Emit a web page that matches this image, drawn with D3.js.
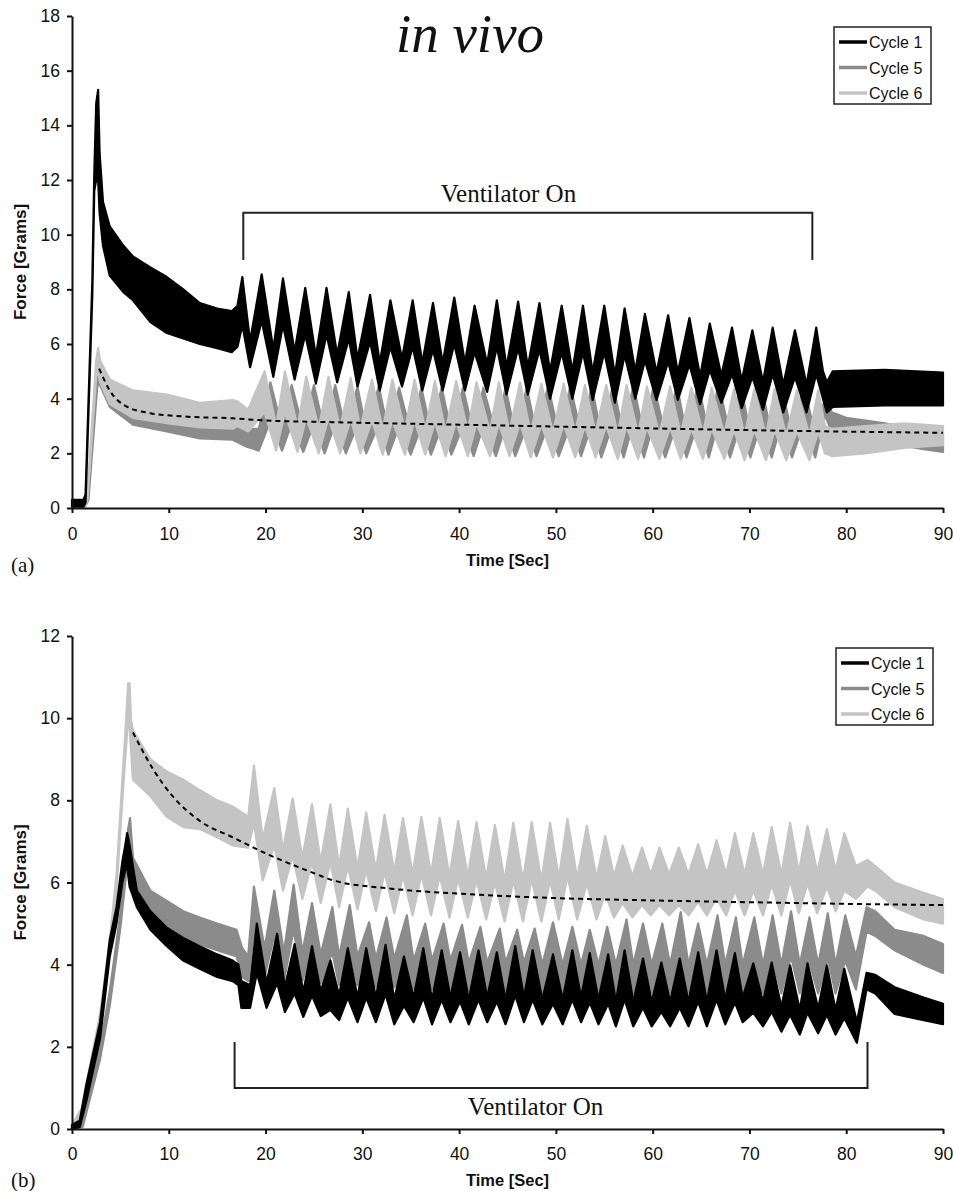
<!DOCTYPE html>
<html>
<head>
<meta charset="utf-8">
<script src="https://cdn.jsdelivr.net/npm/d3@7"></script>
<style>
  body { margin: 0; background: #fff; }
</style>
</head>
<body>
<div id="chart"></div>
<script>
// ---- data: rows are [time s, lower edge g, upper edge g] of each trace ----
const seriesNames = ["Cycle 1", "Cycle 5", "Cycle 6"];
const timeTicks = [0, 10, 20, 30, 40, 50, 60, 70, 80, 90];
const forceTicksA = [0, 2, 4, 6, 8, 10, 12, 14, 16, 18];
const forceTicksB = [0, 2, 4, 6, 8, 10, 12];
const ventA = [17.7, 76.5];
const ventB = [16.8, 82.2];

const aCycle1 = [
  [0,0.05,0.3],[1.2,0.05,0.3],[1.4,0.2,0.5],[2.1,7.8,8.3],[2.3,11.6,12.2],[2.5,12.0,14.8],[2.7,12.0,15.3],
  [2.85,10.8,13.0],[3.2,9.6,11.2],[3.9,8.5,10.3],[5.3,7.9,9.6],[6.3,7.6,9.2],[8.1,6.8,8.8],[9.8,6.4,8.45],
  [11.5,6.2,8.0],[13.2,6.0,7.5],[15,5.85,7.3],[16.5,5.7,7.2],[17.1,5.9,7.4],
  [17.6,6.7,8.45],[18.4,5.15,6.1],[19.6,6.85,8.55],[20.8,4.8,5.8],[21.8,6.7,8.4],[23.0,4.7,5.7],
  [24.1,6.35,8.05],[25.2,4.55,5.55],[26.3,6.35,8.05],[27.4,4.6,5.6],[28.6,6.2,7.9],[29.5,4.45,5.45],
  [30.8,6.1,7.8],[31.8,4.3,5.3],[32.9,5.9,7.6],[34.1,4.45,5.45],[35.2,5.9,7.6],[36.2,4.3,5.3],
  [37.3,5.8,7.5],[38.3,4.3,5.3],[39.5,6.0,7.7],[40.6,4.3,5.3],[41.6,5.7,7.4],[42.9,4.25,5.25],
  [43.9,5.9,7.6],[44.9,4.15,5.15],[46.1,5.85,7.55],[47.1,4.15,5.15],[48.3,5.8,7.5],[49.4,4.0,5.0],
  [50.6,5.7,7.4],[51.7,4.0,5.0],[52.8,5.7,7.4],[53.8,3.95,4.95],[55.0,5.7,7.4],[56.1,3.85,4.85],
  [57.1,5.6,7.3],[58.2,4.0,5.0],[59.2,5.4,7.1],[60.4,3.95,4.95],[61.6,5.35,7.05],[62.6,3.95,4.95],
  [63.8,5.25,6.95],[64.9,3.8,4.8],[65.9,5.05,6.75],[67.1,3.85,4.85],[68.2,4.9,6.6],[69.2,3.65,4.65],
  [70.3,4.8,6.5],[71.4,3.6,4.6],[72.4,4.9,6.6],[73.5,3.5,4.5],[74.7,4.8,6.5],[75.9,3.5,4.5],
  [76.9,4.9,6.6],[77.6,4.0,5.0],[78.0,3.5,4.6],[78.6,3.7,5.0],[84,3.75,5.05],[90,3.75,4.95]
];

const aCycle5 = [
  [0,0,0.12],[1.3,0,0.15],[1.7,0.3,0.6],[2.6,4.4,5.1],[2.75,4.6,5.5],[2.9,4.5,5.2],[3.9,3.7,4.4],
  [6.3,3.05,3.8],[9.8,2.8,3.5],[13.2,2.55,3.3],[16.6,2.5,3.3],[18.0,2.25,2.9],
  [19.3,2.1,2.9],[20.5,3.2,4.6],[21.7,2.1,2.9],[22.7,3.1,4.5],[23.9,2.05,2.85],[25.0,3.1,4.5],
  [26.1,2.0,2.8],[27.2,3.1,4.5],[28.3,2.0,2.8],[29.5,3.05,4.45],[30.4,2.0,2.8],[31.7,3.05,4.45],
  [32.7,1.95,2.75],[33.8,3.0,4.4],[35.0,1.95,2.75],[36.1,3.0,4.4],[37.1,1.95,2.75],[38.2,3.0,4.4],
  [39.2,1.95,2.75],[40.4,3.0,4.4],[41.5,1.9,2.7],[42.5,3.0,4.4],[43.8,1.9,2.7],[44.8,3.0,4.4],
  [45.8,1.9,2.7],[47.0,3.0,4.4],[48.0,1.9,2.7],[49.2,3.05,4.45],[50.3,1.9,2.7],[51.5,3.05,4.45],
  [52.6,1.9,2.7],[53.7,3.05,4.45],[54.7,1.85,2.65],[55.9,3.1,4.5],[57.0,1.85,2.65],[58.0,3.1,4.5],
  [59.1,1.85,2.65],[60.1,3.1,4.5],[61.3,1.85,2.65],[62.5,3.1,4.5],[63.5,1.85,2.65],[64.7,3.15,4.55],
  [65.8,1.85,2.65],[66.8,3.15,4.55],[68.0,1.85,2.65],[69.1,3.1,4.5],[70.1,1.85,2.65],[71.2,3.1,4.5],
  [72.3,1.85,2.65],[73.3,3.1,4.5],[74.4,1.85,2.65],[75.6,3.1,4.5],[76.8,1.85,2.65],[77.8,3.4,4.0],
  [78.5,2.8,3.5],[80,2.6,3.3],[84,2.4,3.1],[88,2.15,2.8],[90,2.05,2.7]
];

const aCycle6 = [
  [0,0,0.12],[1.3,0,0.15],[1.6,0.3,0.6],[2.5,4.8,5.4],[2.7,5.0,5.85],[2.9,4.6,5.4],[3.9,3.8,4.7],
  [6.3,3.3,4.3],[9.8,3.1,4.15],[13.2,2.95,3.85],[16.6,2.9,3.95],[17.1,3.0,3.9],[18.2,2.8,3.6],
  [19.9,3.5,5.0],[21.1,2.1,3.0],[22.0,3.5,5.0],[23.3,2.05,2.95],[24.2,3.3,4.8],[25.5,2.0,2.9],
  [26.5,3.3,4.8],[27.7,2.0,2.9],[28.8,3.25,4.75],[29.8,2.0,2.9],[31.0,3.2,4.7],[32.1,1.95,2.85],
  [33.1,3.2,4.7],[34.4,1.95,2.85],[35.4,3.2,4.7],[36.5,1.95,2.85],[37.5,3.15,4.65],[38.6,1.9,2.8],
  [39.7,3.15,4.65],[40.9,1.9,2.8],[41.8,3.1,4.6],[43.2,1.9,2.8],[44.1,3.1,4.6],[45.2,1.9,2.8],
  [46.3,3.1,4.6],[47.4,1.85,2.75],[48.5,3.05,4.55],[49.7,1.85,2.75],[50.8,3.05,4.55],[52.0,1.85,2.75],
  [53.0,3.0,4.5],[54.1,1.85,2.75],[55.2,3.0,4.5],[56.4,1.8,2.7],[57.3,3.0,4.5],[58.5,1.8,2.7],
  [59.4,2.95,4.45],[60.7,1.8,2.7],[61.8,2.95,4.45],[62.9,1.8,2.7],[64.0,2.9,4.4],[65.2,1.8,2.7],
  [66.1,2.9,4.4],[67.4,1.8,2.7],[68.4,2.85,4.35],[69.5,1.75,2.65],[70.5,2.85,4.35],[71.7,1.75,2.65],
  [72.6,2.85,4.35],[73.8,1.75,2.65],[74.9,2.8,4.3],[76.2,1.75,2.65],[77.1,2.8,4.3],[77.8,2.0,3.0],
  [78.5,1.9,2.9],[82,2.0,3.0],[86,2.2,3.1],[90,2.3,3.0]
];

// dashed fitted decay, [time, force]
const aFit = [[2.8,5.1],[3.9,4.3],[5.7,3.7],[8.1,3.47],[11.5,3.35],[16.6,3.28],[20,3.2],[25.6,3.15],
  [40,3.05],[58.7,2.92],[75,2.82],[90,2.75]];

const bCycle1 = [
  [0,0,0.1],[0.8,0.05,0.2],[1.5,0.7,1.1],[2.9,2.2,2.6],[3.9,4.2,4.6],[4.6,5.0,5.4],[5.2,6.0,6.5],
  [5.5,6.3,6.9],[5.7,6.4,7.2],[5.95,5.9,6.9],[6.7,5.4,5.8],[8.1,4.85,5.3],[9.8,4.45,4.9],
  [11.5,4.1,4.65],[13.2,3.9,4.45],[15,3.7,4.25],[16.6,3.6,4.1],[17.2,3.5,4.0],[17.5,2.95,3.6],[18.4,2.95,3.5],
  [19.1,3.8,5.0],[20.1,2.95,3.55],[21.2,3.55,4.75],[22.0,2.85,3.45],[23.0,3.3,4.5],[23.9,2.73,3.33],
  [24.8,3.25,4.45],[25.7,2.75,3.35],[26.7,2.9,4.1],[27.6,2.65,3.25],[28.5,3.2,4.4],[29.5,2.6,3.2],
  [30.4,3.2,4.4],[31.4,2.6,3.2],[32.4,3.28,4.48],[33.3,2.55,3.15],[34.3,3.0,4.2],[35.3,2.6,3.2],
  [36.3,3.2,4.4],[37.2,2.55,3.15],[38.2,3.15,4.35],[39.1,2.6,3.2],[40.1,3.1,4.3],[41.0,2.55,3.15],
  [42.0,3.15,4.35],[42.9,2.6,3.2],[43.9,3.1,4.3],[44.8,2.55,3.15],[45.8,3.25,4.45],[46.7,2.6,3.2],
  [47.6,3.15,4.35],[48.6,2.55,3.15],[49.7,3.05,4.25],[50.7,2.55,3.15],[51.7,3.15,4.35],[52.6,2.6,3.2],
  [53.5,3.08,4.28],[54.4,2.55,3.15],[55.4,3.05,4.25],[56.2,2.5,3.1],[57.1,3.15,4.35],[58.0,2.5,3.1],
  [59.0,2.95,4.15],[59.9,2.5,3.1],[60.9,2.85,4.05],[61.8,2.5,3.1],[62.8,2.95,4.15],[63.7,2.5,3.1],
  [64.7,3.1,4.3],[65.6,2.5,3.1],[66.6,3.15,4.35],[67.5,2.55,3.15],[68.5,3.08,4.28],[69.3,2.6,3.2],
  [70.4,2.83,4.03],[71.4,2.5,3.1],[72.3,2.85,4.05],[73.3,2.37,2.97],[74.2,2.78,3.98],[75.2,2.3,2.9],
  [76.0,2.83,4.03],[77.1,2.33,2.93],[78.0,2.78,3.98],[78.9,2.3,2.9],[79.8,2.7,3.9],[81.1,2.1,2.6],
  [82.1,3.4,3.8],[83,3.3,3.75],[85,2.8,3.45],[88,2.65,3.2],[90,2.55,3.05]
];

const bCycle5 = [
  [0,0,0.1],[1.1,0.05,0.25],[2.9,1.7,2.0],[3.9,3.0,3.35],[5.0,4.9,5.25],[5.5,6.0,6.5],[5.8,6.6,7.3],
  [6.0,6.8,7.57],[6.3,6.0,6.6],[8.1,5.2,5.8],[9.8,4.95,5.55],[11.5,4.7,5.3],[13.2,4.5,5.15],
  [15,4.35,5.0],[17,4.2,4.85],[17.6,3.7,4.4],[18.2,3.6,4.2],
  [18.8,4.8,5.9],[19.9,3.7,4.4],[20.9,4.7,5.8],[21.9,3.6,4.3],[22.9,4.85,5.95],[23.8,3.6,4.3],
  [24.8,4.4,5.5],[25.7,3.55,4.25],[26.9,4.3,5.4],[27.6,3.5,4.2],[28.7,4.35,5.45],[29.5,3.5,4.2],
  [30.7,3.93,5.03],[31.4,3.45,4.15],[32.5,4.05,5.15],[33.3,3.45,4.15],[34.6,4.1,5.2],[35.3,3.4,4.1],
  [36.5,3.9,5.0],[37.2,3.4,4.1],[38.4,3.9,5.0],[39.1,3.4,4.1],[40.3,3.87,4.97],[41.0,3.35,4.05],
  [42.2,3.82,4.92],[42.9,3.35,4.05],[44.2,3.78,4.88],[44.8,3.35,4.05],[46.0,3.75,4.85],[46.7,3.35,4.05],
  [47.8,3.78,4.88],[48.6,3.3,4.0],[49.7,3.93,5.03],[50.7,3.3,4.0],[51.7,3.82,4.92],[52.6,3.3,4.0],
  [53.5,3.75,4.85],[54.4,3.3,4.0],[55.3,3.82,4.92],[56.2,3.3,4.0],[57.3,4.0,5.1],[58.0,3.3,4.0],
  [59.0,3.9,5.0],[59.9,3.3,4.0],[61.0,3.9,5.0],[61.8,3.3,4.0],[62.9,4.18,5.28],[63.7,3.3,4.0],
  [64.7,3.9,5.0],[65.6,3.3,4.0],[66.7,4.1,5.2],[67.5,3.3,4.0],[68.6,4.05,5.15],[69.3,3.3,4.0],
  [70.5,4.05,5.15],[71.4,3.3,4.0],[72.4,4.1,5.2],[73.3,3.3,4.0],[74.3,4.2,5.3],[75.2,3.3,4.0],
  [76.2,4.05,5.15],[77.1,3.3,4.0],[78.1,4.15,5.25],[78.9,3.3,4.0],[79.9,4.1,5.2],[81.0,3.4,4.2],
  [82.1,4.8,5.4],[83,4.7,5.3],[85,4.35,4.85],[88,4.0,4.7],[90,3.8,4.5]
];

const bCycle6 = [
  [0,0,0.1],[1.0,0.3,0.5],[2.9,2.5,2.8],[3.9,4.3,4.6],[4.6,5.8,6.2],[5.2,8.0,8.5],[5.5,9.0,9.6],
  [5.8,10.0,10.85],[5.95,9.8,10.85],[6.1,9.2,9.95],[6.3,8.5,9.7],[8.1,8.1,9.0],[9.8,7.6,8.7],
  [11.5,7.35,8.5],[13.2,7.3,8.25],[15,7.1,8.0],[16.6,6.9,7.85],[18.2,6.85,7.6],
  [18.8,7.45,8.85],[19.7,6.05,7.05],[20.9,6.9,8.3],[21.8,5.8,6.8],[22.8,6.65,8.05],[23.8,5.6,6.6],
  [24.8,6.5,7.9],[25.7,5.5,6.5],[26.7,6.5,7.9],[27.6,5.4,6.4],[28.5,6.4,7.8],[29.5,5.35,6.35],
  [30.4,6.3,7.7],[31.4,5.3,6.3],[32.3,6.25,7.65],[33.3,5.25,6.25],[34.2,6.17,7.57],[35.2,5.2,6.2],
  [36.1,6.2,7.6],[37.1,5.2,6.2],[38.0,6.17,7.57],[39.0,5.15,6.15],[39.9,6.1,7.5],[40.9,5.15,6.15],
  [41.8,6.07,7.47],[42.8,5.1,6.1],[43.7,6.0,7.4],[44.7,5.05,6.05],[45.6,6.05,7.45],[46.6,5.05,6.05],
  [47.5,6.07,7.47],[48.5,5.05,6.05],[49.4,6.05,7.45],[50.3,5.1,6.1],[51.2,6.15,7.55],[52.2,5.1,6.1],
  [53.2,5.98,7.38],[54.2,5.1,6.1],[55.1,5.73,7.13],[56.0,5.15,6.15],[56.9,5.5,6.9],[57.9,5.15,6.15],
  [58.9,5.45,6.85],[59.8,5.2,6.2],[60.7,5.45,6.85],[61.7,5.2,6.2],[62.7,5.45,6.85],[63.7,5.2,6.2],
  [64.7,5.53,6.93],[65.6,5.2,6.2],[66.6,5.63,7.03],[67.6,5.2,6.2],[68.5,5.8,7.2],[69.5,5.2,6.2],
  [70.4,5.8,7.2],[71.4,5.2,6.2],[72.3,5.95,7.35],[73.3,5.2,6.2],[74.2,6.05,7.45],[75.1,5.25,6.25],
  [76.0,5.98,7.38],[77.0,5.25,6.25],[78.0,5.9,7.3],[78.9,5.3,6.3],[79.8,5.8,7.2],[81.0,5.6,6.4],
  [82.2,5.9,6.55],[83,5.8,6.4],[85,5.4,6.0],[88,5.1,5.75],[90,5.0,5.6]
];

const bFit = [[6.3,9.65],[8.4,8.75],[10.4,8.1],[13.2,7.5],[16.6,7.1],[20.1,6.7],[25.3,6.2],[27,6.05],
  [33,5.85],[40.8,5.72],[50,5.62],[58.7,5.57],[70,5.52],[80,5.48],[90,5.45]];

// ---- styling ----
const colors = { "Cycle 1": "#000000", "Cycle 5": "#8b8b8b", "Cycle 6": "#c4c4c4" };
const sans = "'Liberation Sans', Arial, sans-serif";
const serif = "'Liberation Serif', 'Times New Roman', serif";

const W = 953, H = 1191;
const svg = d3.select("#chart").append("svg")
    .attr("width", W)
    .attr("height", H)
    .style("background", "#fff");

function drawPanel(p) {
    const x = d3.scaleLinear().domain([0, 90]).range([p.left, p.right]);
    const y = d3.scaleLinear().domain([0, p.yMax]).range([p.bottom, p.top]);
    const g = svg.append("g");

    const band = d3.area()
        .x(d => x(d[0]))
        .y0(d => y(d[1]))
        .y1(d => y(d[2]));

    // traces, back to front
    p.order.forEach(name => {
        g.append("path")
            .datum(p.series[name])
            .attr("d", band)
            .attr("fill", colors[name])
            .attr("stroke", colors[name])
            .attr("stroke-width", 2.2)
            .attr("stroke-linejoin", "round");
    });

    const line = d3.line()
        .x(d => x(d[0]))
        .y(d => y(d[1]))
        .curve(d3.curveMonotoneX);

    g.append("path")
        .datum(p.fit)
        .attr("d", line)
        .attr("fill", "none")
        .attr("stroke", "#000")
        .attr("stroke-width", 2)
        .attr("stroke-dasharray", "5,4");

    // axes
    const xAxis = g.append("g")
        .attr("transform", `translate(0,${p.bottom})`)
        .call(d3.axisBottom(x).tickValues(timeTicks).tickSize(5).tickSizeOuter(0).tickPadding(p.xPad));
    const yAxis = g.append("g")
        .attr("transform", `translate(${p.left},0)`)
        .call(d3.axisLeft(y).tickValues(p.yTicks).tickSize(5).tickSizeOuter(0).tickPadding(7));

    [xAxis, yAxis].forEach(a => {
        a.select(".domain").attr("stroke", "#111").attr("stroke-width", 2);
        a.selectAll(".tick line").attr("stroke", "#111").attr("stroke-width", 2);
        a.selectAll(".tick text")
            .attr("font-family", sans)
            .attr("font-size", 17.5)
            .attr("fill", "#111");
    });

    g.append("text")
        .attr("x", (p.left + p.right) / 2)
        .attr("y", p.xTitleY)
        .attr("text-anchor", "middle")
        .attr("font-family", sans)
        .attr("font-weight", "bold")
        .attr("font-size", 16.5)
        .attr("fill", "#111")
        .text("Time [Sec]");

    g.append("text")
        .attr("transform", `translate(26,${(p.top + p.bottom) / 2}) rotate(-90)`)
        .attr("text-anchor", "middle")
        .attr("font-family", sans)
        .attr("font-weight", "bold")
        .attr("font-size", 17)
        .attr("fill", "#111")
        .text("Force [Grams]");

    g.append("text")
        .attr("x", 11)
        .attr("y", p.tagY)
        .attr("font-family", serif)
        .attr("font-size", 21)
        .attr("fill", "#111")
        .text(p.tag);

    // ventilator bracket
    const b = p.bracket;
    g.append("path")
        .attr("d", `M${x(p.vent[0])},${y(b.ends)}V${y(b.bar)}H${x(p.vent[1])}V${y(b.ends)}`)
        .attr("fill", "none")
        .attr("stroke", "#222")
        .attr("stroke-width", 2);

    g.append("text")
        .attr("x", x(b.textX))
        .attr("y", y(b.textY))
        .attr("text-anchor", "middle")
        .attr("font-family", serif)
        .attr("font-size", 25)
        .attr("fill", "#111")
        .text("Ventilator On");

    // legend
    const lg = g.append("g").attr("transform", `translate(${p.legend[0]},${p.legend[1]})`);
    lg.append("rect")
        .attr("width", 97)
        .attr("height", 77)
        .attr("fill", "#fff")
        .attr("stroke", "#222")
        .attr("stroke-width", 1.5);
    seriesNames.forEach((name, i) => {
        const cy = 15 + i * 25.5;
        lg.append("line")
            .attr("x1", 5).attr("x2", 33)
            .attr("y1", cy).attr("y2", cy)
            .attr("stroke", colors[name])
            .attr("stroke-width", 3.5);
        lg.append("text")
            .attr("x", 35)
            .attr("y", cy + 6)
            .attr("font-family", sans)
            .attr("font-size", 16)
            .attr("fill", "#111")
            .text(name);
    });
}

drawPanel({
    left: 72, right: 943, top: 16, bottom: 508, yMax: 18, yTicks: forceTicksA,
    xPad: 15, xTitleY: 566, tag: "(a)", tagY: 572,
    series: { "Cycle 1": aCycle1, "Cycle 5": aCycle5, "Cycle 6": aCycle6 },
    order: ["Cycle 5", "Cycle 6", "Cycle 1"],
    fit: aFit, vent: ventA,
    bracket: { bar: 10.8, ends: 9.07, textX: 45.1, textY: 11.2 },
    legend: [834, 27]
});

drawPanel({
    left: 72, right: 943, top: 636, bottom: 1129, yMax: 12, yTicks: forceTicksB,
    xPad: 14, xTitleY: 1186, tag: "(b)", tagY: 1187,
    series: { "Cycle 1": bCycle1, "Cycle 5": bCycle5, "Cycle 6": bCycle6 },
    order: ["Cycle 6", "Cycle 5", "Cycle 1"],
    fit: bFit, vent: ventB,
    bracket: { bar: 1.0, ends: 2.12, textX: 47.9, textY: 0.34 },
    legend: [836, 648]
});

// panel (a) title
svg.append("text")
    .attr("x", 470)
    .attr("y", 52)
    .attr("text-anchor", "middle")
    .attr("font-family", serif)
    .attr("font-style", "italic")
    .attr("font-size", 55)
    .attr("fill", "#111")
    .text("in vivo");
</script>
</body>
</html>
